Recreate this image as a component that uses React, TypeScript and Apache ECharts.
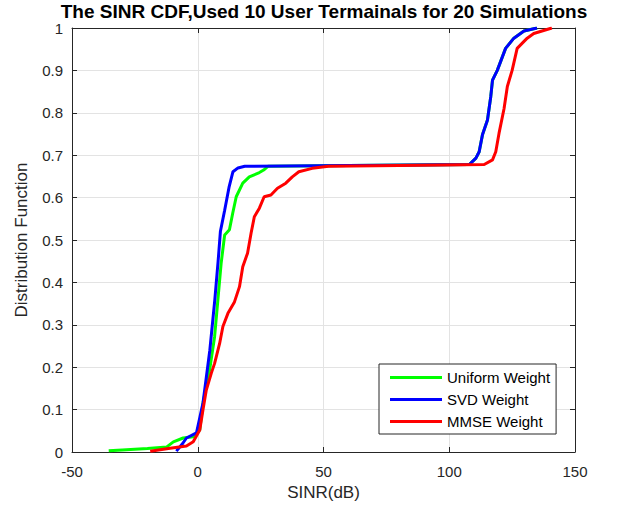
import React, { useEffect, useRef } from "react";
import * as echarts from "echarts";

const titleText = "The SINR CDF,Used 10 User Termainals for 20 Simulations";
const xName = "SINR(dB)";
const yName = "Distribution Function";
const seriesNames = ["Uniform Weight", "SVD Weight", "MMSE Weight"];
const seriesColors = ["#00ff00", "#0000ff", "#ff0000"];

const uniformData: [number, number][] = [
  [-35.4, 0.003], [-30, 0.005], [-20, 0.008], [-12.3, 0.012], [-9.7, 0.024],
  [-5.8, 0.033], [-1.8, 0.036], [0.8, 0.052], [2.1, 0.116], [4.7, 0.193],
  [6.7, 0.272], [8.0, 0.358], [9.3, 0.445], [10.7, 0.512], [12.6, 0.524],
  [13.9, 0.563], [15.3, 0.602], [17.9, 0.634], [20.5, 0.649], [24.5, 0.659],
  [26.2, 0.665], [28, 0.674], [60, 0.676], [108, 0.678], [110.6, 0.693],
  [111.9, 0.708], [113.2, 0.748], [115.2, 0.783], [116.5, 0.838], [117.2, 0.877],
  [119.1, 0.9], [122.4, 0.952], [125.7, 0.976], [129.7, 0.993], [134.9, 1.0],
];

const svdData: [number, number][] = [
  [-8.5, 0.002], [-6, 0.02], [-4.5, 0.033], [-0.5, 0.045], [2.1, 0.116],
  [4.8, 0.24], [6.8, 0.36], [8.1, 0.45], [9.0, 0.52], [10.7, 0.57],
  [12.5, 0.626], [14.0, 0.661], [16, 0.67], [18.7, 0.674], [60, 0.676],
  [108, 0.678], [110.6, 0.693], [111.9, 0.708], [113.2, 0.748], [115.2, 0.783],
  [116.5, 0.838], [117.2, 0.877], [119.1, 0.9], [122.4, 0.952], [125.7, 0.976],
  [129.7, 0.993], [134.9, 1.0],
];

const mmseData: [number, number][] = [
  [-18.9, 0.002], [-11, 0.009], [-4.5, 0.014], [-1.8, 0.024], [0.8, 0.052],
  [2.1, 0.1], [3.4, 0.146], [5.4, 0.186], [6.7, 0.209], [8.7, 0.256],
  [10, 0.296], [12, 0.327], [14.6, 0.354], [16.6, 0.39], [17.9, 0.437],
  [19.8, 0.469], [21.2, 0.516], [22.5, 0.555], [24.5, 0.575], [26.4, 0.602],
  [29.1, 0.606], [31.7, 0.622], [35, 0.634], [37.6, 0.649], [40.2, 0.661],
  [45.5, 0.669], [52, 0.674], [80, 0.676], [113.9, 0.678], [117.2, 0.689],
  [118.5, 0.708], [119.8, 0.752], [121.8, 0.81], [123.1, 0.862], [125, 0.9],
  [127, 0.952], [131, 0.976], [133.6, 0.987], [140.8, 1.0],
];

const allData = [uniformData, svdData, mmseData];

const FONT = "'Liberation Sans', Arial, Helvetica, sans-serif";
const AXIS = "#262626";

export default function App() {
  const ref = useRef<HTMLDivElement>(null);
  useEffect(() => {
    document.body.style.margin = "0";
    if (!ref.current) return;
    const chart = echarts.init(ref.current, undefined, { renderer: "svg" });
    const tickCommon = { show: true, inside: true, length: 5, lineStyle: { color: AXIS, width: 1 } };
    chart.setOption({
      animation: false,
      backgroundColor: "#ffffff",
      textStyle: { fontFamily: FONT },
      grid: { left: 72, right: 46, top: 28, bottom: 61, containLabel: false },
      graphic: [
        {
          type: "text",
          x: 324,
          y: 11.5,
          style: {
            text: titleText,
            fontFamily: FONT,
            fontWeight: "bold",
            fontSize: 19,
            fill: "#000000",
            textAlign: "center",
            textVerticalAlign: "middle",
          },
        },
      ],
      legend: {
        orient: "vertical",
        left: 379,
        top: 364,
        itemWidth: 52,
        itemHeight: 3,
        itemGap: 7,
        padding: [6, 6, 5, 11],
        borderColor: AXIS,
        borderWidth: 1,
        backgroundColor: "#ffffff",
        textStyle: { fontSize: 15, color: "#000000", fontFamily: FONT, padding: [0, 0, 0, 0] },
        data: seriesNames.map((n) => ({ name: n, icon: "rect" })),
      },
      xAxis: [
        {
          type: "value",
          min: -50,
          max: 150,
          interval: 50,
          name: xName,
          nameLocation: "middle",
          nameGap: 32,
          nameTextStyle: { fontSize: 17, color: AXIS, fontFamily: FONT },
          axisLine: { show: true, onZero: false, lineStyle: { color: AXIS, width: 1 } },
          axisTick: tickCommon,
          axisLabel: { fontSize: 15, color: AXIS, margin: 12, fontFamily: FONT },
          splitLine: { show: true, lineStyle: { color: "#e3e3e3", width: 1 } },
        },
        {
          type: "value",
          position: "top",
          min: -50,
          max: 150,
          interval: 50,
          axisLine: { show: true, onZero: false, lineStyle: { color: AXIS, width: 1 } },
          axisTick: tickCommon,
          axisLabel: { show: false },
          splitLine: { show: false },
        },
      ],
      yAxis: [
        {
          type: "value",
          min: 0,
          max: 1,
          interval: 0.1,
          name: yName,
          nameLocation: "middle",
          nameGap: 42,
          nameTextStyle: { fontSize: 17, color: AXIS, fontFamily: FONT },
          axisLine: { show: true, onZero: false, lineStyle: { color: AXIS, width: 1 } },
          axisTick: tickCommon,
          axisLabel: { fontSize: 15, color: AXIS, margin: 9, fontFamily: FONT },
          splitLine: { show: true, lineStyle: { color: "#e3e3e3", width: 1 } },
        },
        {
          type: "value",
          position: "right",
          min: 0,
          max: 1,
          interval: 0.1,
          axisLine: { show: true, onZero: false, lineStyle: { color: AXIS, width: 1 } },
          axisTick: tickCommon,
          axisLabel: { show: false },
          splitLine: { show: false },
        },
      ],
      series: allData.map((d, i) => ({
        name: seriesNames[i],
        type: "line",
        data: d,
        xAxisIndex: 0,
        yAxisIndex: 0,
        showSymbol: false,
        symbol: "none",
        color: seriesColors[i],
        lineStyle: { color: seriesColors[i], width: 3 },
        z: 2 + i,
      })),
    });
    return () => chart.dispose();
  }, []);
  return <div ref={ref} style={{ width: 621, height: 513 }} />;
}
